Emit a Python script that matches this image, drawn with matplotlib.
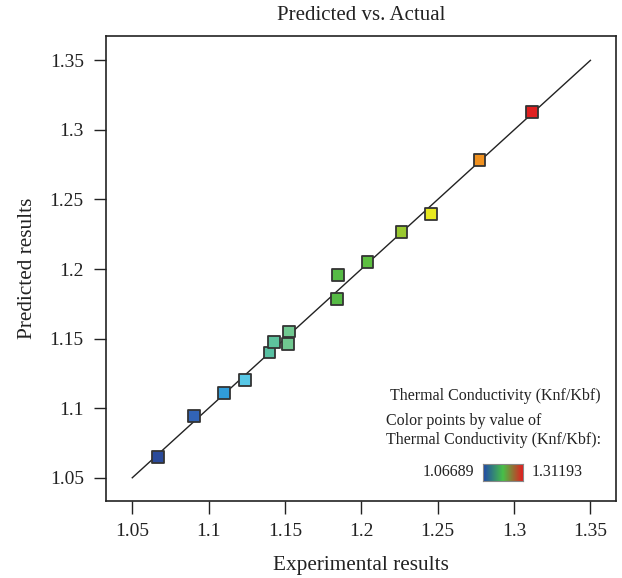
import matplotlib
matplotlib.use("Agg")
import matplotlib.pyplot as plt
from matplotlib.colors import LinearSegmentedColormap, Normalize
import numpy as np

# experimental (actual) vs predicted thermal conductivity ratio
actual = [1.06689, 1.0906, 1.1100, 1.1236, 1.1399, 1.1427, 1.1521, 1.1528,
          1.1840, 1.1846, 1.2041, 1.2263, 1.2457, 1.2774, 1.31193]
predicted = [1.0647, 1.0946, 1.1107, 1.1200, 1.1401, 1.1473, 1.1461, 1.1552,
             1.1787, 1.1957, 1.2048, 1.2264, 1.2395, 1.2783, 1.3126]
ticks = [1.05, 1.1, 1.15, 1.2, 1.25, 1.3, 1.35]
tick_labels = ["1.05", "1.1", "1.15", "1.2", "1.25", "1.3", "1.35"]
vmin, vmax = 1.06689, 1.31193

# Design-Expert style point colouring
point_cmap = LinearSegmentedColormap.from_list("de_points", [
    (0.00, "#2a4a9a"), (0.10, "#3366b8"), (0.18, "#30a0dc"), (0.23, "#58c8e8"),
    (0.30, "#58c0a0"), (0.35, "#70c890"), (0.47, "#55bb45"), (0.56, "#5cbf40"),
    (0.65, "#98c830"), (0.73, "#e8e820"), (0.86, "#f09020"), (1.00, "#e02020"),
])
bar_cmap = LinearSegmentedColormap.from_list("de_bar", ["#2048a8", "#48c048", "#e02020"])

plt.rcParams["font.family"] = ["Liberation Serif", "DejaVu Serif"]

fig = plt.figure(figsize=(6.22, 5.78), dpi=100)
ax = fig.add_axes([0.1704, 0.1332, 0.8196, 0.805])

ax.plot([ticks[0], ticks[-1]], [ticks[0], ticks[-1]], color="#222222", lw=1.0, zorder=1)
norm = Normalize(vmin=vmin, vmax=vmax)
ax.scatter(actual, predicted, c=[point_cmap(norm(v)) for v in actual], marker="s", s=72,
           edgecolors="#333333", linewidths=1.3, zorder=2)

ax.set_xlim(1.0328, 1.3666)
ax.set_ylim(1.0333, 1.3677)
ax.set_xticks(ticks)
ax.set_xticklabels(tick_labels)
ax.set_yticks(ticks)
ax.set_yticklabels(tick_labels)
ax.tick_params(direction="out", length=9, width=1.0, labelsize=14, pad=7, colors="#222222")
for side in ax.spines.values():
    side.set_linewidth(1.2)
    side.set_color("#222222")

ax.set_title("Predicted vs. Actual", fontsize=15, pad=11, color="#222222")
ax.set_xlabel("Experimental results", fontsize=15.3, labelpad=11, color="#222222")
ax.set_ylabel("Predicted results", fontsize=15.3, labelpad=9, color="#222222")

# colour legend inside the plot
leg_kw = dict(transform=fig.transFigure, fontsize=11.5, color="#222222")
fig.text(601 / 622, 1 - 396 / 578, "Thermal Conductivity (Knf/Kbf)", ha="right", va="center", **leg_kw)
fig.text(386 / 622, 1 - 421 / 578, "Color points by value of", ha="left", va="center", **leg_kw)
fig.text(386 / 622, 1 - 440 / 578, "Thermal Conductivity (Knf/Kbf):", ha="left", va="center", **leg_kw)
fig.text(474 / 622, 1 - 472 / 578, f"{vmin:.5f}", ha="right", va="center", **leg_kw)
fig.text(532 / 622, 1 - 472 / 578, f"{vmax:.5f}", ha="left", va="center", **leg_kw)
bar_ax = fig.add_axes([483 / 622, 1 - 481 / 578, 40 / 622, 17 / 578])
bar_ax.imshow(np.linspace(0, 1, 100)[None, :], aspect="auto", cmap=bar_cmap)
bar_ax.set_xticks([])
bar_ax.set_yticks([])
for side in bar_ax.spines.values():
    side.set_color("#888888")
    side.set_linewidth(0.8)

fig.savefig("out.png", dpi=100)
